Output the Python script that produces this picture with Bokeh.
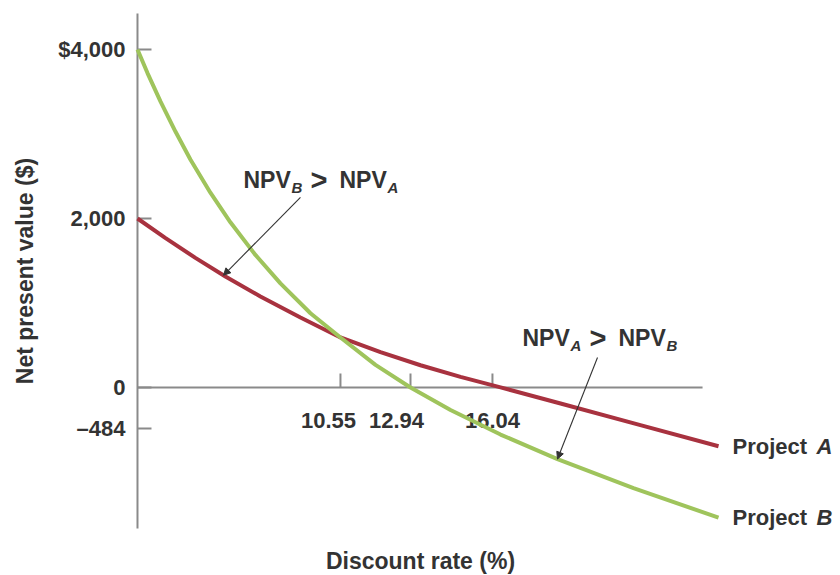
import numpy as np
from bokeh.plotting import figure
from bokeh.models import Range1d, Arrow, NormalHead, ColumnDataSource
from bokeh.core.properties import value
from bokeh.embed import file_html
from bokeh.resources import INLINE

# ---- data read from the (schematic) chart ----
# horizontal position in discount-rate units as drawn, NPV in $
rate_a = [0.0, 1.46, 3.01, 4.57, 6.39, 8.47, 10.55, 12.63, 14.71, 16.79, 18.87, 21.99, 26.14, 30.20]
npv_a = [2000, 1768, 1534, 1314, 1077, 828, 592, 419, 263, 125, 2, -189, -445, -695]
rate_b = [0.0, 0.52, 1.20, 1.98, 2.75, 3.79, 4.83, 6.13, 7.43, 8.99, 10.55, 12.37, 14.19, 16.27, 18.87, 21.83, 25.78, 30.20]
npv_b = [4000, 3721, 3383, 3026, 2698, 2305, 1955, 1569, 1232, 879, 592, 267, 0, -266, -557, -847, -1192, -1540]

y_ticks = [4000, 2000, 0, -484]
y_tick_labels = ["$4,000", "2,000", "0", "\u2013484"]
x_tick_pos = [10.55, 14.19, 18.45]          # where the schematic places these rates
x_tick_labels = ["10.55", "12.94", "16.04"]
x_axis_end = 29.37
y_axis_bounds = (-1669, 4426)

# styling
x_label_shift = [-12, -14, 0]   # px, as the labels are set in the original
FONT = "Liberation Sans"
TXT = "#333333"
GRAY = "#8a8a8a"
RED = "#a8323f"
GREEN = "#9fc45c"

p = figure(width=840, height=575, output_backend="svg", toolbar_location=None,
           x_axis_location=None, y_axis_location=None,
           x_range=Range1d(-7.12, 36.54), y_range=Range1d(-2225, 4580),
           min_border=0)
p.outline_line_color = None
p.xgrid.visible = False
p.ygrid.visible = False
p.background_fill_color = "white"
p.border_fill_color = "white"

def txt(x, y, t, size, style="bold", **kw):
    p.text(x=x, y=y, text=t, text_font=value(FONT), text_font_style=style,
           text_font_size=size, text_color=TXT, **kw)

# y axis (at rate 0)
p.segment(x0=[0], y0=[y_axis_bounds[0]], x1=[0], y1=[y_axis_bounds[1]], line_color=GRAY, line_width=2)
p.ray(x=[0] * len(y_ticks), y=y_ticks, length=14, length_units="screen", angle=0,
      line_color=GRAY, line_width=2)
txt([0] * len(y_ticks), y_ticks, y_tick_labels, "22px", x_offset=-12,
    text_align="right", text_baseline="middle")
txt([-5.87], [sum(y_axis_bounds) / 2], ["Net present value ($)"], "23px",
    angle=np.pi / 2, text_align="center", text_baseline="middle")

# x axis (at NPV 0)
p.segment(x0=[0], y0=[0], x1=[x_axis_end], y1=[0], line_color=GRAY, line_width=2)
p.ray(x=x_tick_pos, y=[0] * len(x_tick_pos), length=14, length_units="screen",
      angle=np.pi / 2, line_color=GRAY, line_width=2)
xl_src = ColumnDataSource(dict(x=x_tick_pos, y=[0] * len(x_tick_pos), t=x_tick_labels, dx=x_label_shift))
p.text(x="x", y="y", text="t", x_offset="dx", y_offset=33, source=xl_src,
       text_align="center", text_baseline="alphabetic", text_font=value(FONT),
       text_font_style="bold", text_font_size="22px", text_color=TXT)
txt([14.71], [y_axis_bounds[0]], ["Discount rate (%)"], "23px", y_offset=32,
    text_align="center", text_baseline="middle")

# curves
p.line(rate_a, npv_a, line_color=RED, line_width=4)
p.line(rate_b, npv_b, line_color=GREEN, line_width=4)

# project labels
for rx, ry, letter in [(rate_a, npv_a, "A"), (rate_b, npv_b, "B")]:
    txt([rx[-1]], [ry[-1]], ["Project"], "22px", x_offset=14, text_baseline="middle")
    txt([rx[-1]], [ry[-1]], [letter], "22px", style="bold italic", x_offset=98, text_baseline="middle")

# NPV comparison annotations
def npv_label(x, y, s1, s2):
    pieces = [("NPV", 0, 0, "bold", "23px"), (s1, 48, 7, "bold italic", "15px"),
              (">", 67, 0, "bold", "29px"), ("NPV", 96, 0, "bold", "23px"),
              (s2, 144, 7, "bold italic", "15px")]
    for t, dx, dy, st, sz in pieces:
        txt([x], [y], [t], sz, style=st, x_offset=dx, y_offset=dy, text_baseline="alphabetic")

npv_label(5.51, 2450, "B", "A")
npv_label(20.01, 580, "A", "B")

tip1_x = 4.47
tip2_x = 21.83
for xs, ys, tx, rx, ry in [(8.47, 2249, tip1_x, rate_a, npv_a), (23.91, 355, tip2_x, rate_b, npv_b)]:
    p.add_layout(Arrow(end=NormalHead(size=7, fill_color=TXT, line_color=TXT, line_width=1),
                       x_start=xs, y_start=ys, x_end=tx, y_end=float(np.interp(tx, rx, ry)),
                       line_color=TXT, line_width=1.1))

open("out.html", "w").write(file_html(p, INLINE))
